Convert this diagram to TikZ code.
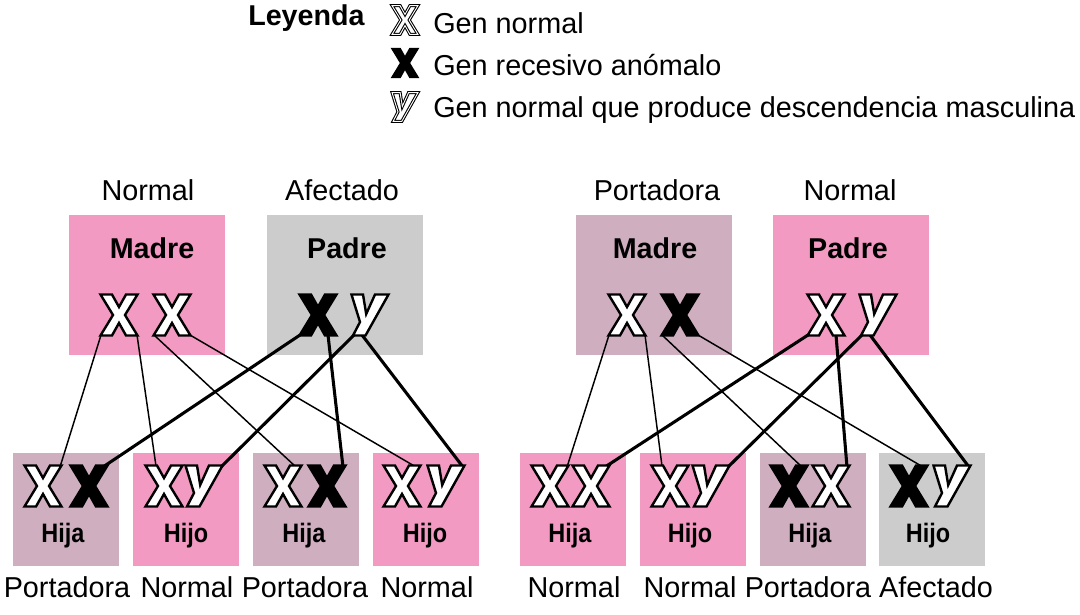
\documentclass[tikz,border=0pt]{standalone}
\usepackage{fontspec}
\setmainfont{Liberation Sans}
\usetikzlibrary{calc}
\definecolor{pinkc}{RGB}{243,154,194}
\definecolor{mauvec}{RGB}{207,174,192}
\definecolor{grayc}{RGB}{204,204,204}
\tikzset{
  pbox/.style={draw=none, inner sep=0, minimum width=117pt, minimum height=105pt},
  kbox/.style={draw=none, inner sep=0, minimum width=79.5pt, minimum height=84.75pt},
  lbl/.style={anchor=base, inner sep=0, font=\fontsize{21.6}{26}\selectfont},
  blbl/.style={anchor=base, inner sep=0, font=\fontsize{21.5}{26}\selectfont\bfseries},
  klbl/.style={anchor=base, inner sep=0, font=\fontsize{20}{24}\selectfont\bfseries},
  legtxt/.style={anchor=base west, inner sep=0, font=\fontsize{21.6}{26}\selectfont},
  thinline/.style={line width=1.1pt},
  thickline/.style={line width=2.3pt},
  glyph/.style={fill=white, draw=black, line width=1.8pt},
  glyphb/.style={fill=black, draw=black, line width=1.8pt},
  pics/xw/.style={code={\draw[glyph] (-18.5,-20.5) -- (-7,-20.5) -- (0,-8) -- (7,-20.5) -- (18.5,-20.5) -- (6,0) -- (18.5,20.5) -- (7,20.5) -- (0,8) -- (-7,20.5) -- (-18.5,20.5) -- (-6,0) -- cycle;}},
  pics/xb/.style={code={\draw[glyphb] (-18.5,-20.5) -- (-7,-20.5) -- (0,-8) -- (7,-20.5) -- (18.5,-20.5) -- (6,0) -- (18.5,20.5) -- (7,20.5) -- (0,8) -- (-7,20.5) -- (-18.5,20.5) -- (-6,0) -- cycle;}},
  pics/yw/.style={code={\draw[glyph] (-18.5,-20.5) -- (-7,-20.5) -- (-3.8,-1) -- (5,-20.5) -- (18.5,-20.5) -- (-4.5,20.5) -- (-17,20.5) -- (-10,7) -- cycle;}},
  legglyph/.style={glyph/.style={fill=white, draw=black, line width=0.8pt, double=white, double distance=0.7pt}},
}
\begin{document}
\begin{tikzpicture}[x=0.75pt,y=-0.75pt]
\useasboundingbox (0,0) rectangle (1080,614);

% Legend
\node[anchor=base west, inner sep=0, font=\fontsize{21.5}{26}\selectfont\bfseries] (ley) at (248,26) {Leyenda};
\coordinate (lg1) at (405,20);
\coordinate (lg2) at (405,63);
\coordinate (lg3) at (405,107);
\pic[scale=0.7, legglyph] at (lg1) {xw};
\pic[scale=0.7, glyphb/.style={fill=black, draw=black, line width=1.2pt}] at (lg2) {xb};
\pic[scale=0.7, legglyph] at (lg3) {yw};
\node[legtxt] (lt1) at (433,33) {Gen normal};
\node[legtxt] (lt2) at (433,75) {Gen recesivo anómalo};
\node[legtxt] (lt3) at (433,117) {Gen normal que produce descendencia masculina};

% Parent boxes
\node[pbox, fill=pinkc] (Lmadre) at (147,285) {};
\node[pbox, fill=grayc] (Lpadre) at (344.5,285) {};
\node[pbox, fill=mauvec] (Rmadre) at (654,285) {};
\node[pbox, fill=pinkc] (Rpadre) at (850.5,285) {};

% Child boxes
\node[kbox, fill=mauvec] (Lk1) at (66,509.5) {};
\node[kbox, fill=pinkc] (Lk2) at (186,509.5) {};
\node[kbox, fill=mauvec] (Lk3) at (305.5,509.5) {};
\node[kbox, fill=pinkc] (Lk4) at (425.5,509.5) {};
\node[kbox, fill=pinkc] (Rk1) at (573,509.5) {};
\node[kbox, fill=pinkc] (Rk2) at (693,509.5) {};
\node[kbox, fill=mauvec] (Rk3) at (812.5,509.5) {};
\node[kbox, fill=grayc] (Rk4) at (932,509.5) {};

% Top labels
\node[lbl] (t1) at (148,200) {Normal};
\node[lbl] (t2) at (342,200) {Afectado};
\node[lbl] (t3) at (657,200) {Portadora};
\node[lbl] (t4) at (850,200) {Normal};
\node[blbl] (n1) at (152,258) {Madre};
\node[blbl] (n2) at (347,258) {Padre};
\node[blbl] (n3) at (655,258) {Madre};
\node[blbl] (n4) at (848,258) {Padre};

% Child labels
\node[klbl] (c1) at (63,542) {\scalebox{0.88}[1]{Hija}};
\node[klbl] (c2) at (186,542) {\scalebox{0.88}[1]{Hijo}};
\node[klbl] (c3) at (304,542) {\scalebox{0.88}[1]{Hija}};
\node[klbl] (c4) at (425,542) {\scalebox{0.88}[1]{Hijo}};
\node[klbl] (c5) at (570,542) {\scalebox{0.88}[1]{Hija}};
\node[klbl] (c6) at (690,542) {\scalebox{0.88}[1]{Hijo}};
\node[klbl] (c7) at (810,542) {\scalebox{0.88}[1]{Hija}};
\node[klbl] (c8) at (928,542) {\scalebox{0.88}[1]{Hijo}};

\node[lbl] (b1) at (67,597) {Portadora};
\node[lbl] (b2) at (187,597) {Normal};
\node[lbl] (b3) at (305,597) {Portadora};
\node[lbl] (b4) at (427,597) {Normal};
\node[lbl] (b5) at (574,597) {Normal};
\node[lbl] (b6) at (690,597) {Normal};
\node[lbl] (b7) at (808,597) {Portadora};
\node[lbl] (b8) at (936,597) {Afectado};

% Letter positions
\coordinate (Lm1) at (119,315); \coordinate (Lm2) at (172,315);
\coordinate (Lp1) at (318,315); \coordinate (Lp2) at (370,315);
\coordinate (Lh1a) at (43,486); \coordinate (Lh1b) at (89,486);
\coordinate (Lh2a) at (164,486); \coordinate (Lh2b) at (204,486);
\coordinate (Lh3a) at (283,486); \coordinate (Lh3b) at (327,486);
\coordinate (Lh4a) at (402,486); \coordinate (Lh4b) at (446,486);
\coordinate (Rm1) at (627,315); \coordinate (Rm2) at (680,315);
\coordinate (Rp1) at (826,315); \coordinate (Rp2) at (878,315);
\coordinate (Rh1a) at (550,486); \coordinate (Rh1b) at (591,486);
\coordinate (Rh2a) at (670,486); \coordinate (Rh2b) at (711,486);
\coordinate (Rh3a) at (789,486); \coordinate (Rh3b) at (831,486);
\coordinate (Rh4a) at (909,486); \coordinate (Rh4b) at (952,486);

% Connectors
\foreach \s in {L,R}{
  \draw[thinline] ($(\s m1)+(-18,20)$) -- ($(\s h1a)+(17,-19)$);
  \draw[thinline] ($(\s m1)+(18,20)$) -- ($(\s h2a)+(-8,-20)$);
  \draw[thinline] ($(\s m2)+(-18,20)$) -- ($(\s h3a)+(13,-19)$);
  \draw[thinline] ($(\s m2)+(18,20)$) -- ($(\s h4a)+(14,-19)$);
  \draw[thickline] ($(\s p1)+(-18,20)$) -- ($(\s h1b)+(14,-19)$);
  \draw[thickline] ($(\s p2)+(-16,20)$) -- ($(\s h2b)+(17,-19)$);
  \draw[thickline] ($(\s p1)+(10,20)$) -- ($(\s h3b)+(16,-19)$);
  \draw[thickline] ($(\s p2)+(-8,20)$) -- ($(\s h4b)+(17,-19)$);
}

% Glyphs
\foreach \c/\g in {Lm1/xw, Lm2/xw, Lp1/xb, Lp2/yw,
  Lh1a/xw, Lh1b/xb, Lh2a/xw, Lh2b/yw, Lh3a/xw, Lh3b/xb, Lh4a/xw, Lh4b/yw,
  Rm1/xw, Rm2/xb, Rp1/xw, Rp2/yw,
  Rh1a/xw, Rh1b/xw, Rh2a/xw, Rh2b/yw, Rh3a/xb, Rh3b/xw, Rh4a/xb, Rh4b/yw}{
  \pic at (\c) {\g};
}
\end{tikzpicture}
\end{document}
